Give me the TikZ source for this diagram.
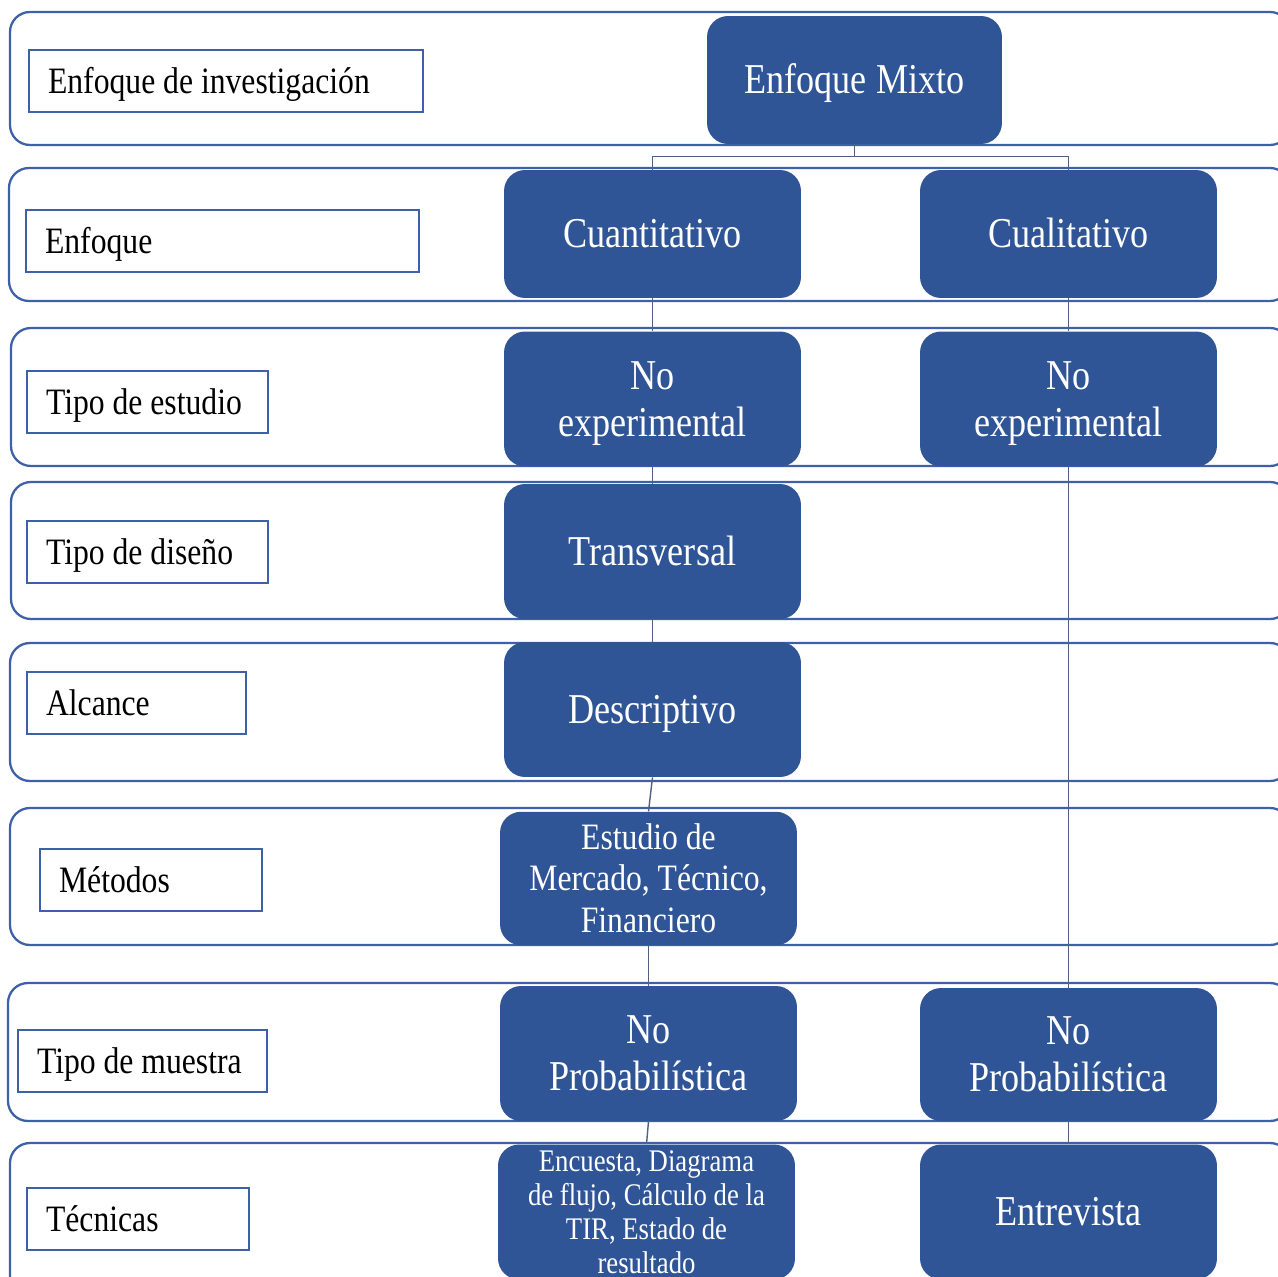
\documentclass[tikz,border=0pt]{standalone}
\usepackage{fontspec}
\setmainfont[FakeStretch=0.85]{Liberation Serif}
\usepackage{tikz}
\usetikzlibrary{calc}
\definecolor{boxblue}{RGB}{47,85,151}
\definecolor{lineblue}{RGB}{62,96,168}
\definecolor{linkgray}{RGB}{80,98,130}
\tikzstyle{rowband}=[draw=lineblue,line width=1.3pt,rounded corners=0.4cm]
\tikzstyle{labelbox}=[rectangle,draw=lineblue,line width=1.2pt,fill=white,anchor=west,
                      minimum height=1.24cm,inner xsep=0.38cm,inner ysep=0pt,
                      font=\fontsize{21.2}{25}\selectfont]
\tikzstyle{bluebox}=[rectangle,rounded corners=0.42cm,fill=boxblue,text=white,
                     minimum width=5.94cm,minimum height=2.7cm,inner sep=0pt,align=center,
                     font=\fontsize{24.2}{26.8}\selectfont]
\tikzstyle{link}=[draw=linkgray,line width=0.8pt]
\newcommand\capup{\rule{0pt}{1.005em}}
\newcommand\capdown{\rule[-0.35em]{0pt}{0.35em}}
\newcommand\rowlabel[2]{\parbox{#1}{\raggedright\capup\capdown #2}}
\newcommand\colleft{652.5}
\newcommand\colright{1068.5}

\begin{document}
\begin{tikzpicture}[x=0.02cm,y=-0.02cm]
    \clip (0,0) rectangle (1278,1277);

    \draw [rowband] (10,12) rectangle (1290,145);
    \draw [rowband] (9,168) rectangle (1290,301);
    \draw [rowband] (11,328) rectangle (1290,466);
    \draw [rowband] (11,482) rectangle (1290,619);
    \draw [rowband] (10,643) rectangle (1290,781);
    \draw [rowband] (10,808) rectangle (1290,945);
    \draw [rowband] (8,983) rectangle (1290,1121);
    \draw [rowband] (10,1143) rectangle (1290,1330);

    \node [labelbox] (lblEnfoqueInv) at (28,81) {\rowlabel{7.12cm}{Enfoque de investigación}};
    \node [labelbox] (lblEnfoque) at (25,241) {\rowlabel{7.1cm}{Enfoque}};
    \node [labelbox] (lblEstudio) at (26,402) {\rowlabel{4.06cm}{Tipo de estudio}};
    \node [labelbox] (lblDiseno) at (26,552) {\rowlabel{4.06cm}{Tipo de diseño}};
    \node [labelbox] (lblAlcance) at (26,703) {\rowlabel{3.62cm}{Alcance}};
    \node [labelbox] (lblMetodos) at (39,880) {\rowlabel{3.68cm}{Métodos}};
    \node [labelbox] (lblMuestra) at (17,1061) {\rowlabel{4.22cm}{Tipo de muestra}};
    \node [labelbox] (lblTecnicas) at (26,1219) {\rowlabel{3.68cm}{Técnicas}};

    \node [bluebox,minimum width=5.9cm,minimum height=2.56cm] (Mixto) at (854.5,80) {\capup\capdown Enfoque Mixto};
    \node [bluebox,minimum height=2.56cm] (Cuanti) at (\colleft,234) {\capup\capdown Cuantitativo};
    \node [bluebox,minimum height=2.56cm] (Cuali) at (\colright,234) {\capup\capdown Cualitativo};
    \node [bluebox] (NoExpCuanti) at (\colleft,399) {\capup No\\\capdown experimental};
    \node [bluebox] (NoExpCuali) at (\colright,399) {\capup No\\\capdown experimental};
    \node [bluebox] (Transversal) at (\colleft,551.5) {\capup\capdown Transversal};
    \node [bluebox] (Descriptivo) at (\colleft,709.5) {\capup\capdown Descriptivo};
    \node [bluebox,minimum height=2.66cm,font=\fontsize{21.2}{23.6}\selectfont] (Metodos) at (648.5,878.5) {
        \capup Estudio de\\Mercado, Técnico,\\\capdown Financiero
    };
    \node [bluebox] (NoProbCuanti) at (648.5,1053.5) {\capup No\\\capdown Probabilística};
    \node [bluebox,minimum height=2.66cm] (NoProbCuali) at (\colright,1054.5) {\capup No\\\capdown Probabilística};
    \node [bluebox,font=\fontsize{17.9}{19.4}\selectfont] (Encuesta) at (646.5,1212) {
        Encuesta, Diagrama\\de flujo, Cálculo de la\\TIR, Estado de\\resultado
    };
    \node [bluebox] (Entrevista) at (\colright,1212) {\capup\capdown Entrevista};

    \coordinate (split) at ($(Mixto.south)+(0,12)$);
    \draw [link] (Mixto.south) -- (split) -| (Cuanti.north);
    \draw [link] (split) -| (Cuali.north);
    \draw [link] (Cuanti) -- (NoExpCuanti);
    \draw [link] (NoExpCuanti) -- (Transversal);
    \draw [link] (Transversal) -- (Descriptivo);
    \draw [link] (Descriptivo.south) -- (Metodos.north);
    \draw [link] (Metodos) -- (NoProbCuanti);
    \draw [link] (NoProbCuanti.south) -- (Encuesta.north);
    \draw [link] (Cuali) -- (NoExpCuali);
    \draw [link] (NoExpCuali) -- (NoProbCuali);
    \draw [link] (NoProbCuali) -- (Entrevista);
\end{tikzpicture}
\end{document}
